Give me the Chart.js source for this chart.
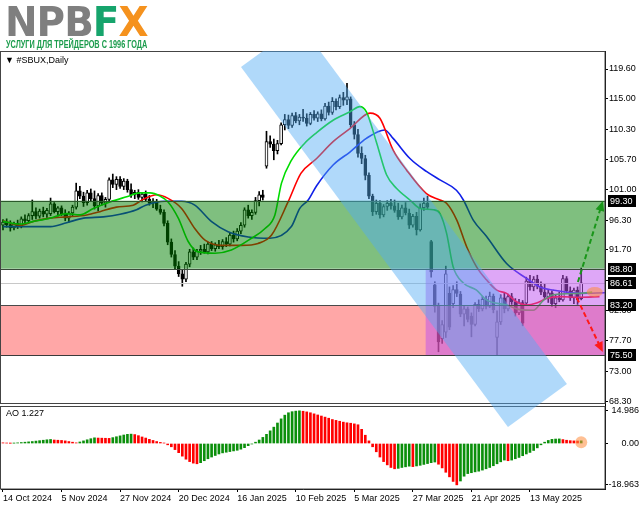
<!DOCTYPE html>
<html>
<head>
<meta charset="utf-8">
<script src="https://cdn.jsdelivr.net/npm/chart.js@4.4.1/dist/chart.umd.min.js"></script>
<style>
  body{margin:0;background:#fff;width:639px;height:508px;overflow:hidden;position:relative;font-family:"Liberation Sans",Arial,sans-serif}
  #chart{position:absolute;left:0;top:0}
  #logo{position:absolute;left:5px;top:2px;font:bold 40px/41px "DejaVu Sans",sans-serif;white-space:nowrap;letter-spacing:-1px;transform-origin:0 0}
  #logo .n{color:#7f7f7f}
  #logo .f{color:#16a46c}
  #logo .x{color:#f5921e}
  #tag{position:absolute;left:6px;top:40px;font:bold 10px/10px "Liberation Sans",Arial,sans-serif;color:#1b9c4c;white-space:nowrap;transform-origin:0 0}
  .lbl{position:absolute;font:9px/11px "Liberation Sans",Arial,sans-serif;color:#000;white-space:nowrap}
</style>
</head>
<body>
<canvas id="chart" width="639" height="508"></canvas>
<div id="logo"><span class="n">NPB</span><span class="f">F</span><span class="x">X</span></div>
<div id="tag">УСЛУГИ ДЛЯ ТРЕЙДЕРОВ С 1996 ГОДА</div>
<div class="lbl" style="left:5px;top:55px">&#9660; #SBUX,Daily</div>
<div class="lbl" style="left:6px;top:408px">AO 1.227</div>
<script>
(function(){
  // axis labels
  const dateLabels = ["14 Oct 2024","5 Nov 2024","27 Nov 2024","20 Dec 2024","16 Jan 2025","10 Feb 2025","5 Mar 2025","27 Mar 2025","21 Apr 2025","13 May 2025"];
  const dateIdx = [0,16,32,48,64,80,96,112,128,144];
  const priceTicks = ["119.60","115.00","110.30","105.70","101.00","96.30","91.70","87.00","82.30","77.70","73.00","68.30"];
  const aoTicks = ["14.986","0.00","-18.963"];

  // daily candles
  const opens = [95.5,96.0,95.6,95.1,95.8,95.3,96.5,96.2,97.0,97.6,96.9,97.7,97.2,97.3,98.8,97.6,98.2,97.3,96.6,97.4,
    98.3,100.8,100.0,99.0,100.5,99.6,98.5,100.1,98.9,99.5,102.5,101.8,102.6,101.5,102.3,101.0,100.2,100.6,99.8,100.3,
    99.5,98.9,99.2,98.0,97.5,95.8,92.9,91.0,89.2,88.0,87.2,89.5,91.4,90.6,91.5,91.8,91.4,92.6,91.9,92.5,
    92.2,93.0,92.6,94.0,93.4,94.6,95.5,97.9,97.0,97.5,99.3,100.2,104.6,108.4,108.0,107.0,108.1,111.0,111.8,110.9,
    112.4,111.6,112.2,112.0,111.2,112.6,112.0,112.7,111.9,113.9,112.9,114.6,113.8,115.2,114.8,115.0,111.0,109.5,106.6,105.8,
    103.2,100.0,97.6,98.9,97.1,98.4,98.9,98.5,97.8,96.8,98.2,97.4,95.5,96.9,94.8,98.2,98.9,93.0,86.3,83.0,
    78.0,79.0,85.0,83.4,85.6,84.9,81.8,82.6,81.5,80.2,83.3,82.6,84.1,83.0,84.6,78.2,80.6,84.3,82.6,84.5,
    83.7,82.0,83.6,83.5,86.9,86.0,87.2,86.1,85.2,84.5,85.1,83.4,84.3,84.0,87.3,85.4,84.3,85.5,84.2];
  const highs = [96.4,96.5,96.2,96.0,96.3,96.8,97.1,97.3,99.4,98.2,98.0,98.3,98.1,99.7,99.0,98.4,98.5,97.9,97.6,98.6,
    102.0,101.5,100.6,100.9,101.1,100.8,100.4,100.5,99.8,102.8,103.4,103.0,103.0,102.7,102.6,101.9,100.9,101.0,100.6,100.8,
    100.1,99.6,99.5,98.6,97.9,96.2,93.4,91.6,89.9,88.6,89.8,91.8,92.0,91.8,92.4,92.6,92.9,93.0,92.8,93.2,
    93.3,93.6,94.3,94.6,95.0,95.9,98.2,98.6,97.9,99.8,100.7,100.9,110.0,109.3,108.8,108.6,111.3,112.6,112.5,112.8,
    112.9,112.6,113.4,112.7,112.9,113.2,113.0,113.3,114.3,114.5,115.2,115.0,115.6,116.0,117.4,115.3,111.5,110.3,107.6,106.3,
    103.6,100.3,99.4,99.3,98.7,99.3,99.5,99.4,98.9,98.6,99.0,98.0,97.2,97.5,98.8,99.7,100.0,93.2,86.8,83.5,
    80.8,89.2,86.0,86.2,86.8,85.3,83.0,82.9,82.0,83.6,84.0,84.5,84.6,85.2,84.9,82.3,84.8,85.0,84.9,85.0,
    84.2,84.1,83.9,87.5,87.8,87.6,87.8,86.8,86.4,85.5,85.4,84.7,85.2,87.8,87.6,86.0,85.8,86.0,88.9];
  const lows = [94.8,95.2,94.6,94.8,95.0,95.1,95.8,95.9,96.4,96.5,96.6,96.8,96.7,97.0,97.4,96.9,97.0,96.2,96.0,97.0,
    98.0,99.6,98.4,98.6,99.3,98.0,97.7,98.6,98.3,99.3,101.3,101.0,101.2,101.0,100.6,99.8,99.6,99.5,99.1,99.2,
    98.6,98.2,97.8,97.2,95.4,92.5,90.6,88.8,87.6,86.1,86.8,89.1,90.2,90.2,91.0,91.2,91.1,91.6,91.5,91.9,
    91.8,92.2,92.3,92.9,93.1,94.2,95.2,96.6,96.4,97.2,98.5,99.4,104.3,107.5,105.6,106.5,107.9,110.2,110.4,110.6,
    111.3,111.0,111.5,110.8,111.0,111.7,111.5,111.6,111.7,112.5,112.6,113.3,113.5,114.0,114.1,110.6,108.8,106.0,105.0,102.5,
    99.6,97.0,97.2,96.6,96.8,97.8,98.0,97.5,96.4,96.5,97.1,95.0,95.2,94.0,94.6,97.8,97.9,87.5,82.1,76.0,
    77.3,78.2,79.4,82.8,84.5,81.4,80.0,80.6,78.3,80.0,82.2,82.3,82.6,82.8,82.0,75.5,80.2,82.0,82.3,83.3,
    81.5,81.7,80.0,83.2,85.5,85.4,85.7,84.8,84.1,83.6,83.0,82.8,83.7,83.8,85.0,83.9,83.4,83.3,84.0];
  const closes = [96.0,95.6,95.1,95.8,95.3,96.5,96.2,97.0,97.6,96.9,97.7,97.2,97.8,98.8,97.6,98.2,97.3,96.6,97.4,98.3,
    100.8,100.0,99.0,100.5,99.6,98.5,100.1,98.9,99.5,102.5,101.8,102.6,101.5,102.3,101.0,100.2,100.6,99.8,100.3,99.5,
    98.9,99.2,98.0,97.5,95.8,92.9,91.0,89.2,88.0,87.2,89.5,91.4,90.6,91.5,91.8,91.4,92.6,91.9,92.5,92.2,
    93.0,92.6,94.0,93.4,94.6,95.5,97.9,97.0,97.5,99.3,100.2,99.8,108.4,108.0,107.0,108.1,111.0,111.8,110.9,112.4,
    111.6,112.2,112.0,111.2,112.6,112.0,112.7,111.9,113.9,112.9,114.6,113.8,115.2,114.8,115.3,111.0,109.5,106.6,105.8,103.2,
    100.0,97.6,98.9,97.1,98.4,98.9,98.5,97.8,96.8,98.2,97.4,95.5,96.9,94.8,98.2,98.9,98.3,88.3,83.0,77.5,
    80.2,88.0,79.8,85.6,85.0,81.8,82.6,81.0,80.2,83.3,82.6,84.1,83.0,84.6,82.5,80.6,84.3,82.6,84.5,83.7,
    82.0,83.6,80.4,86.9,86.0,87.2,86.1,85.2,84.5,85.1,83.4,84.3,84.0,87.3,85.4,84.3,85.5,84.0,86.61];

  // Awesome Oscillator
  const ao = [0.3,0.2,0.1,0.15,0.3,0.45,0.6,0.75,0.9,1.1,1.3,1.5,1.7,1.85,1.6,1.5,1.4,1.2,0.9,0.6,
    0.3,0.7,1.2,1.7,2.2,2.6,2.5,2.45,2.4,2.35,2.7,3.1,3.5,3.9,4.2,4.3,4.1,3.6,3.0,2.5,
    1.9,1.4,0.9,0.5,0.2,-0.6,-1.5,-2.8,-4.2,-5.8,-7.2,-8.3,-9.0,-9.3,-8.8,-7.9,-7.0,-6.2,-5.5,-4.8,
    -4.3,-4.0,-3.7,-3.4,-3.1,-2.6,-1.9,-1.0,-0.2,0.6,1.6,2.8,4.2,5.8,7.5,9.4,11.3,13.0,14.1,14.6,
    14.85,14.986,14.8,14.5,14.1,13.6,13.1,12.6,12.1,11.6,11.0,10.6,10.2,9.8,9.5,9.3,9.0,8.6,6.5,3.8,
    1.2,-1.5,-3.8,-6.2,-8.3,-9.8,-11.0,-11.6,-11.4,-11.0,-10.7,-10.4,-10.6,-10.3,-10.0,-9.6,-9.2,-8.8,-8.5,-9.5,
    -11.2,-13.2,-15.3,-17.4,-18.963,-17.2,-15.0,-13.8,-13.4,-13.0,-12.7,-12.2,-11.6,-11.0,-10.2,-9.3,-8.4,-7.6,-7.9,-7.6,
    -7.0,-6.4,-5.6,-4.8,-4.1,-3.2,-2.0,-0.6,0.6,1.4,1.9,2.05,2.1,1.8,1.5,1.3,1.2,1.15,1.227];

  // Alligator lines (bar index, price), read at points along each line
  const lipsX = [0,4.6,8.3,12.8,17.4,21,24.7,29.2,33.8,37.4,40.2,42.9,45.1,47.9,50.6,53.3,57.9,62.4,67.9,71.6,74.3,76.1,78.8,82.5,85.7,90.2,94.8,97.5,99.3,102,104.8,107.5,111.2,114,117.6,119.4,121.2,123,125.8,129.4,132.1,137.6,141.2,144.9,147.6,150.4,157.6,161];
  const lips  = [96.1,95.7,96.1,96.6,97.3,97.1,98.1,99.1,99.9,100.5,100.5,100.0,99.1,96.6,93.0,91.4,91.2,91.7,93.5,95.0,97.1,102.0,105.5,108.2,109.8,111.7,113.0,113.8,113.0,108.4,103.3,101.2,99.4,98.1,97.9,97.3,94.3,89.1,86.6,85.5,84.0,83.2,82.5,82.4,83.9,84.8,85.0,85.2];
  const teethX = [0,4.6,8.3,12.8,17.4,22.9,26.5,31,35.6,38.3,42,45.1,48.8,52.4,55.2,59.7,65.2,69.7,73.4,77.9,81.4,85.7,90.2,94.8,100.3,103,106.6,110.3,115.7,119.4,121.2,124,126.7,129.4,132.1,134.9,137.6,140.3,143.1,145.8,148.5,152.2,157.6,163];
  const teeth  = [96.2,95.5,96.1,96.6,96.8,97.1,97.6,98.3,98.6,99.5,100.2,99.65,98.1,95.0,93.2,92.4,92.4,92.7,94.0,99.1,103.5,105.8,108.4,110.4,112.8,112.0,107.1,104.0,100.4,99.4,98.9,96.3,92.2,89.1,87.1,85.5,85.0,83.7,83.2,83.5,84.2,84.5,84.4,84.5];
  const jawX = [0,13,17.4,22,27.4,32,36.5,39,44.3,48.8,52.4,57,61.5,67,72.9,78.8,81.1,83.4,85.7,90.2,94.8,99.3,104.3,106.6,111.2,115.7,119.4,123.9,125.8,128.5,132.1,137.6,143.1,146.7,150.4,157.6,164.5];
  const jaw  = [95.3,95.3,95.9,96.6,96.8,97.2,97.9,98.6,99.2,99.2,98.6,96.05,94.5,93.7,93.5,95.3,98.1,99.4,101.6,104.8,106.8,108.9,110.2,108.9,105.8,103.8,102.5,100.9,99.4,96.3,93.8,89.6,87.3,86.0,85.5,85.0,85.1];

  // annotations (bar index / price)
  const levels = [99.30, 88.80, 86.61, 83.20, 75.50];
  const greenZone = [88.80, 99.30];
  const redZone = [75.50, 83.20];
  const purpleZone = [115.5, 75.50, 88.80];
  const bandX = [65.03, 81.15, 154.1, 137.98];
  const bandY = [119.91, 126.54, 71.03, 64.40];
  const upArrow = [157.1, 86.75, 163.9, 99.25];
  const downArrow = [156.8, 84.3, 163.9, 75.95];
  const priceMark = [161.7, 85.2];
  const aoMark = [158.0, 0.6];

  const FONT = {family: "Liberation Sans", size: 9};
  const idx = closes.map((_, i) => i);

  function arrow(ctx, x0, y0, x1, y1, color){
    const a = Math.atan2(y1 - y0, x1 - x0), c = Math.cos(a), s = Math.sin(a);
    ctx.save();
    ctx.strokeStyle = color; ctx.fillStyle = color; ctx.lineWidth = 2;
    ctx.setLineDash([5, 3]);
    ctx.beginPath(); ctx.moveTo(x0, y0); ctx.lineTo(x1 - 7*c, y1 - 7*s); ctx.stroke();
    ctx.setLineDash([]);
    ctx.beginPath();
    ctx.moveTo(x1, y1);
    ctx.lineTo(x1 - 10*c + 4.5*s, y1 - 10*s - 4.5*c);
    ctx.lineTo(x1 - 10*c - 4.5*s, y1 - 10*s + 4.5*c);
    ctx.closePath(); ctx.fill();
    ctx.restore();
  }

  const overlays = {
    id: "overlays",
    afterDatasetsDraw(chart){
      const {ctx, chartArea: a, scales: {x, y, yAO}} = chart;
      const L = a.left, R = a.right;
      ctx.save();
      ctx.beginPath(); ctx.rect(L, y.top, R - L, y.bottom - y.top); ctx.clip();
      // last price line
      ctx.strokeStyle = "#c8c8c8"; ctx.lineWidth = 1;
      let Y = Math.round(y.getPixelForValue(levels[2])) + 0.5;
      ctx.beginPath(); ctx.moveTo(L, Y); ctx.lineTo(R, Y); ctx.stroke();
      // zones
      ctx.fillStyle = "rgba(0,128,0,0.5)";
      ctx.fillRect(L, y.getPixelForValue(greenZone[1]), R - L, y.getPixelForValue(greenZone[0]) - y.getPixelForValue(greenZone[1]));
      ctx.fillStyle = "rgba(255,80,80,0.5)";
      ctx.fillRect(L, y.getPixelForValue(redZone[1]), R - L, y.getPixelForValue(redZone[0]) - y.getPixelForValue(redZone[1]));
      const px0 = x.getPixelForValue(purpleZone[0]);
      ctx.fillStyle = "rgba(190,80,240,0.5)";
      ctx.fillRect(px0, y.getPixelForValue(purpleZone[2]), R - px0, y.getPixelForValue(purpleZone[1]) - y.getPixelForValue(purpleZone[2]));
      // level borders
      [[greenZone[1], "#2c5a2c"], [greenZone[0], "#3a4a3a"], [redZone[1], "#4a4a4a"], [redZone[0], "#3a3a3a"]].forEach(([v, col]) => {
        const yy = Math.round(y.getPixelForValue(v)) + 0.5;
        ctx.strokeStyle = col; ctx.beginPath(); ctx.moveTo(L, yy); ctx.lineTo(R, yy); ctx.stroke();
      });
      ctx.restore();

      // pane borders
      ctx.save();
      const sep = Math.round(y.bottom);
      ctx.fillStyle = "#fff";
      ctx.fillRect(0, sep - 1, R, 3);
      ctx.strokeStyle = "#444"; ctx.lineWidth = 1;
      ctx.strokeRect(0.5, Math.round(y.top) + 0.5, R - 0.5, sep - 1 - Math.round(y.top));
      ctx.strokeRect(0.5, sep + 2.5, R - 0.5, Math.round(yAO.bottom) - sep - 2.5);
      ctx.restore();

      // diagonal channel
      ctx.save();
      ctx.beginPath(); ctx.rect(0, y.top, chart.width, chart.height - y.top); ctx.clip();
      ctx.beginPath();
      bandX.forEach((v, k) => {
        const X = x.getPixelForValue(v), YY = y.getPixelForValue(bandY[k]);
        if (k) ctx.lineTo(X, YY); else ctx.moveTo(X, YY);
      });
      ctx.closePath();
      ctx.fillStyle = "rgba(80,170,245,0.45)";
      ctx.fill();
      ctx.restore();

      // forecast arrows
      arrow(ctx, x.getPixelForValue(upArrow[0]), y.getPixelForValue(upArrow[1]), x.getPixelForValue(upArrow[2]), y.getPixelForValue(upArrow[3]), "#1a961a");
      arrow(ctx, x.getPixelForValue(downArrow[0]), y.getPixelForValue(downArrow[1]), x.getPixelForValue(downArrow[2]), y.getPixelForValue(downArrow[3]), "#ff1a1a");

      // highlight marks
      ctx.save();
      ctx.fillStyle = "rgba(255,140,60,0.55)";
      ctx.beginPath();
      ctx.ellipse(x.getPixelForValue(priceMark[0]), y.getPixelForValue(priceMark[1]), 8, 5, 0, 0, Math.PI*2);
      ctx.fill();
      ctx.beginPath();
      ctx.arc(x.getPixelForValue(aoMark[0]), yAO.getPixelForValue(aoMark[1]), 6, 0, Math.PI*2);
      ctx.fill();
      ctx.restore();
    },
    afterDraw(chart){
      const {ctx, scales: {y}} = chart;
      ctx.save();
      ctx.font = '9px "Liberation Sans"';
      ctx.textBaseline = "middle";
      levels.forEach(v => {
        const Y = Math.round(y.getPixelForValue(v));
        ctx.fillStyle = "#000";
        ctx.fillRect(y.left + 3, Y - 6, 28, 12);
        ctx.fillStyle = "#fff";
        ctx.fillText(v.toFixed(2), y.left + 5, Y + 0.5);
      });
      ctx.restore();
    }
  };

  const line = (data, xs, color) => ({
    type: "line",
    data: xs.map((v, i) => ({x: v, y: data[i]})),
    yAxisID: "y",
    borderColor: color,
    borderWidth: 1.6,
    pointRadius: 0,
    cubicInterpolationMode: "monotone",
    order: 0
  });

  const yAxis = (extra) => Object.assign({
    type: "linear",
    position: "right",
    stack: "panes",
    afterFit: s => { s.width = 34; },
    grid: {drawOnChartArea: false, drawTicks: true, tickLength: 3, color: "#000"},
    border: {display: true, color: "#000"}
  }, extra);

  new Chart(document.getElementById("chart"), {
    type: "bar",
    data: {
      datasets: [
        line(lips, lipsX, "#00dc00"),
        line(teeth, teethX, "#ff0000"),
        line(jaw, jawX, "#1020e8"),
        {
          data: idx.map(i => ({x: i, y: [opens[i], closes[i]]})),
          yAxisID: "y",
          backgroundColor: idx.map(i => closes[i] >= opens[i] ? "#ffffff" : "#000000"),
          borderColor: "#000",
          borderWidth: 1,
          borderSkipped: false,
          barThickness: 3,
          grouped: false,
          order: 1
        },
        {
          data: idx.map(i => ({x: i, y: [lows[i], highs[i]]})),
          yAxisID: "y",
          backgroundColor: "#000",
          barThickness: 1,
          grouped: false,
          order: 2
        },
        {
          data: idx.map(i => ({x: i, y: ao[i]})),
          yAxisID: "yAO",
          backgroundColor: idx.map(i => (i > 0 && ao[i] >= ao[i-1]) ? "#0b8f0b" : "#ff0000"),
          barThickness: 2,
          grouped: false,
          order: 3
        }
      ]
    },
    options: {
      responsive: false,
      animation: false,
      events: [],
      layout: {padding: {top: 51, left: 1, right: 0, bottom: 0}},
      plugins: {legend: {display: false}, tooltip: {enabled: false}},
      scales: {
        x: {
          type: "linear",
          position: "bottom",
          offset: false,
          min: -0.546,
          max: 164.5,
          afterFit: s => { s.height = 19; },
          afterBuildTicks: s => { s.ticks = dateIdx.map(v => ({value: v})); },
          grid: {drawOnChartArea: false, drawTicks: true, tickLength: 3, color: "#000", offset: false},
          border: {display: true, color: "#000"},
          ticks: {
            autoSkip: false, maxRotation: 0, align: "start", font: FONT, color: "#000", padding: 1,
            callback: v => dateLabels[dateIdx.indexOf(v)]
          }
        },
        y: yAxis({
          stackWeight: 353,
          min: 67.943,
          max: 122.376,
          afterBuildTicks: s => { s.ticks = priceTicks.map(Number).reverse().map(v => ({value: v})); },
          ticks: {autoSkip: false, font: FONT, color: "#000", padding: 1, callback: v => v.toFixed(2)}
        }),
        yAO: yAxis({
          stackWeight: 85,
          min: -20.87,
          max: 18.12,
          afterBuildTicks: s => { s.ticks = aoTicks.map(Number).reverse().map(v => ({value: v})); },
          ticks: {autoSkip: false, font: FONT, color: "#000", padding: 1, crossAlign: "far",
            callback: v => aoTicks[aoTicks.map(Number).indexOf(v)]}
        })
      }
    },
    plugins: [overlays]
  });

  // fit the logo and slogan to their widths in the picture
  const logo = document.getElementById("logo");
  logo.style.transform = "scaleX(" + (142 / logo.offsetWidth) + ")";
  const tag = document.getElementById("tag");
  tag.style.transform = "scaleX(" + (141 / tag.offsetWidth) + ")";
})();
</script>
</body>
</html>
